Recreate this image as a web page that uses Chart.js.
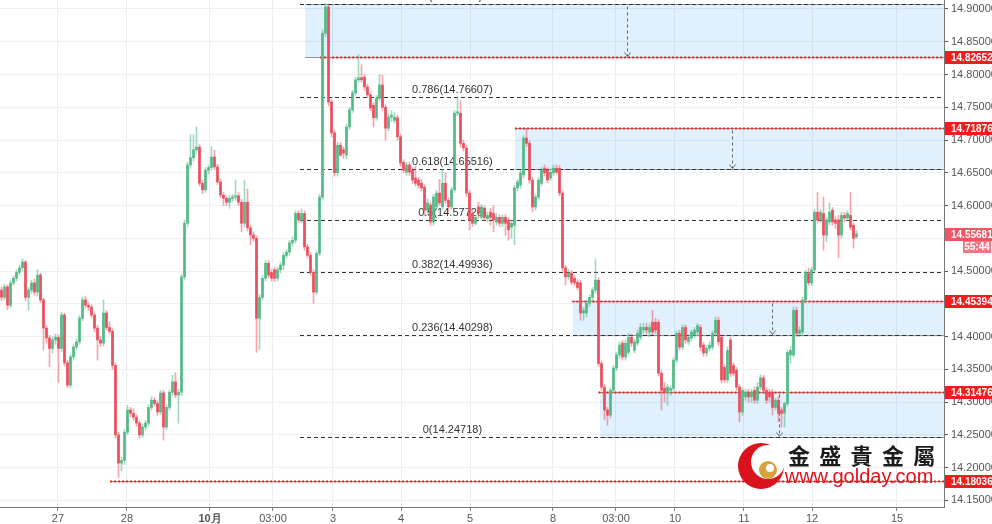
<!DOCTYPE html>
<html>
<head>
<meta charset="utf-8">
<title>USDZAR 1H</title>
<script src="https://cdn.jsdelivr.net/npm/chart.js@4.4.1/dist/chart.umd.min.js"></script>
<style>
  html, body { margin: 0; padding: 0; background: #fff; }
  #box { width: 992px; height: 524px; }
</style>
</head>
<body>
<div id="box"><canvas id="chart" width="992" height="524"></canvas></div>
<script>
// candles as [open, high, low, close]
// 26 - 28 Sep: chop, slide to the 14.18 low and the first rally
const candlesA = [
  [14.471,14.476,14.455,14.460],[14.460,14.480,14.456,14.476],[14.476,14.479,14.441,14.448],[14.448,14.486,14.444,14.482],
  [14.482,14.493,14.478,14.489],[14.489,14.502,14.485,14.498],[14.498,14.509,14.494,14.505],[14.505,14.519,14.500,14.514],
  [14.514,14.516,14.455,14.460],[14.460,14.475,14.440,14.471],[14.471,14.486,14.466,14.482],[14.482,14.488,14.463,14.468],
  [14.468,14.502,14.462,14.494],[14.494,14.497,14.452,14.456],[14.456,14.459,14.380,14.413],[14.413,14.417,14.390,14.398],
  [14.398,14.402,14.354,14.382],[14.382,14.400,14.375,14.395],[14.395,14.404,14.388,14.399],[14.399,14.403,14.330,14.382],
  [14.382,14.437,14.377,14.433],[14.433,14.436,14.355,14.360],[14.360,14.364,14.322,14.326],[14.326,14.373,14.322,14.369],
  [14.369,14.388,14.364,14.384],[14.384,14.396,14.380,14.392],[14.392,14.432,14.388,14.428],[14.428,14.460,14.424,14.456],
  [14.456,14.462,14.444,14.448],[14.448,14.452,14.440,14.445],[14.445,14.449,14.429,14.433],[14.433,14.436,14.408,14.413],
  [14.413,14.417,14.364,14.395],[14.395,14.400,14.385,14.390],[14.390,14.456,14.386,14.436],[14.436,14.440,14.410,14.414],
  [14.414,14.422,14.404,14.408],[14.408,14.412,14.350,14.356],[14.356,14.360,14.245,14.250],[14.250,14.254,14.185,14.207],
  [14.207,14.216,14.195,14.211],[14.211,14.258,14.205,14.254],[14.254,14.295,14.250,14.288],[14.288,14.292,14.278,14.283],
  [14.283,14.290,14.272,14.277],[14.277,14.281,14.263,14.268],[14.268,14.272,14.245,14.250],[14.250,14.266,14.246,14.262],
  [14.262,14.272,14.257,14.268],[14.268,14.296,14.264,14.292],[14.292,14.308,14.288,14.303],[14.303,14.307,14.294,14.298],
  [14.298,14.302,14.280,14.285],[14.285,14.318,14.281,14.314],[14.314,14.318,14.242,14.262],[14.262,14.296,14.258,14.292],
  [14.292,14.319,14.288,14.315],[14.315,14.341,14.310,14.331],[14.331,14.345,14.307,14.311],[14.311,14.320,14.268,14.315],
  [14.315,14.495,14.310,14.491]
];
// 1 - 5 Oct: rally, spike to 14.90 and the fade
const candlesB = [
  [14.491,14.578,14.487,14.573],[14.573,14.666,14.568,14.662],[14.662,14.708,14.657,14.673],[14.673,14.708,14.668,14.685],
  [14.685,14.720,14.680,14.689],[14.689,14.693,14.630,14.634],[14.634,14.638,14.618,14.624],[14.624,14.658,14.620,14.654],
  [14.654,14.662,14.648,14.658],[14.658,14.690,14.654,14.674],[14.674,14.685,14.655,14.659],[14.659,14.663,14.632,14.636],
  [14.636,14.640,14.612,14.616],[14.616,14.620,14.600,14.611],[14.611,14.614,14.600,14.605],[14.605,14.615,14.596,14.611],
  [14.611,14.617,14.606,14.613],[14.613,14.639,14.608,14.615],[14.615,14.620,14.600,14.605],[14.605,14.610,14.560,14.573],
  [14.573,14.639,14.568,14.605],[14.605,14.625,14.561,14.566],[14.566,14.570,14.540,14.555],[14.555,14.560,14.545,14.550],
  [14.550,14.554,14.376,14.428],[14.428,14.464,14.380,14.460],[14.460,14.493,14.456,14.489],[14.489,14.516,14.485,14.512],
  [14.512,14.516,14.490,14.494],[14.498,14.503,14.485,14.489],[14.502,14.506,14.484,14.489],[14.489,14.506,14.485,14.502],
  [14.502,14.513,14.497,14.509],[14.509,14.528,14.502,14.524],[14.524,14.533,14.520,14.529],[14.529,14.547,14.525,14.543],
  [14.543,14.552,14.538,14.547],[14.547,14.592,14.543,14.588],[14.588,14.592,14.574,14.578],[14.578,14.595,14.574,14.588],
  [14.588,14.592,14.532,14.537],[14.537,14.541,14.520,14.524],[14.524,14.528,14.494,14.498],[14.498,14.502,14.451,14.468],
  [14.468,14.531,14.464,14.527],[14.527,14.617,14.523,14.613],[14.613,14.868,14.609,14.863],[14.863,14.908,14.858,14.903],
  [14.903,14.906,14.752,14.758],[14.758,14.762,14.705,14.711],[14.711,14.715,14.645,14.650],[14.650,14.697,14.645,14.692],
  [14.692,14.696,14.675,14.677],[14.685,14.690,14.672,14.680],[14.677,14.724,14.672,14.720],[14.720,14.750,14.716,14.746],
  [14.746,14.776,14.742,14.772],[14.772,14.796,14.768,14.792],[14.792,14.830,14.788,14.795],[14.795,14.815,14.788,14.792],
  [14.796,14.800,14.776,14.781],[14.781,14.785,14.765,14.769],[14.769,14.773,14.745,14.749],[14.753,14.757,14.720,14.734],
  [14.734,14.768,14.730,14.764],[14.764,14.800,14.760,14.784],[14.784,14.799,14.745,14.750],[14.750,14.754,14.700,14.718],
  [14.718,14.740,14.714,14.735],[14.735,14.745,14.728,14.738],[14.730,14.742,14.726,14.735],[14.734,14.738,14.700,14.705],
  [14.705,14.709,14.660,14.665],[14.666,14.670,14.650,14.654],[14.651,14.666,14.646,14.662],[14.662,14.666,14.646,14.651],
  [14.654,14.658,14.634,14.639],[14.642,14.660,14.630,14.634],[14.639,14.643,14.627,14.631],[14.634,14.640,14.622,14.627],
  [14.628,14.632,14.585,14.593],[14.593,14.610,14.588,14.604],[14.601,14.605,14.570,14.575],[14.575,14.617,14.570,14.613],
  [14.598,14.623,14.594,14.619],[14.619,14.640,14.600,14.604],[14.598,14.655,14.594,14.634],[14.634,14.650,14.603,14.608],
  [14.608,14.612,14.590,14.598],[14.598,14.628,14.594,14.624],[14.624,14.745,14.620,14.741],[14.741,14.766,14.737,14.743],
  [14.741,14.760,14.690,14.695],[14.695,14.700,14.683,14.688],[14.688,14.692,14.614,14.619],[14.619,14.623,14.563,14.578],
  [14.588,14.592,14.568,14.573],[14.573,14.585,14.570,14.582],[14.598,14.605,14.580,14.588],[14.582,14.602,14.578,14.598],
  [14.596,14.600,14.578,14.582],[14.580,14.590,14.575,14.585],[14.590,14.596,14.570,14.582],[14.588,14.600,14.560,14.578],
  [14.575,14.588,14.570,14.582],[14.582,14.586,14.568,14.573],[14.573,14.586,14.568,14.582],[14.582,14.586,14.555,14.573],
  [14.578,14.582,14.547,14.563],[14.567,14.578,14.550,14.573],[14.570,14.631,14.540,14.627],[14.627,14.640,14.622,14.636],
  [14.631,14.654,14.626,14.650],[14.647,14.707,14.642,14.703],[14.703,14.718,14.690,14.695],[14.695,14.699,14.634,14.639],
  [14.639,14.643,14.590,14.598],[14.598,14.617,14.593,14.613],[14.613,14.643,14.608,14.639],[14.634,14.658,14.630,14.654],
  [14.657,14.662,14.645,14.650],[14.654,14.658,14.635,14.639],[14.642,14.656,14.638,14.651],[14.650,14.662,14.646,14.657],
  [14.657,14.662,14.648,14.651],[14.657,14.661,14.615,14.619]
];
// 8 - 12 Oct: the drop, the 14.25-14.43 range and the breakout
const candlesC = [
  [14.619,14.623,14.500,14.505],[14.505,14.509,14.479,14.491],[14.491,14.503,14.487,14.497],[14.497,14.501,14.479,14.483],
  [14.489,14.493,14.478,14.482],[14.483,14.487,14.471,14.475],[14.482,14.486,14.425,14.436],[14.436,14.445,14.425,14.440],
  [14.436,14.455,14.430,14.451],[14.451,14.464,14.446,14.460],[14.460,14.475,14.455,14.471],[14.471,14.518,14.466,14.486],
  [14.486,14.490,14.355,14.359],[14.359,14.363,14.318,14.323],[14.323,14.327,14.273,14.288],[14.288,14.292,14.265,14.280],
  [14.280,14.322,14.276,14.318],[14.318,14.356,14.314,14.352],[14.352,14.376,14.348,14.372],[14.372,14.392,14.366,14.387],
  [14.390,14.394,14.364,14.369],[14.369,14.395,14.364,14.390],[14.376,14.405,14.372,14.399],[14.399,14.404,14.385,14.390],
  [14.379,14.396,14.375,14.392],[14.390,14.410,14.386,14.405],[14.399,14.420,14.395,14.414],[14.410,14.420,14.405,14.414],
  [14.414,14.420,14.404,14.410],[14.407,14.419,14.400,14.414],[14.422,14.440,14.403,14.407],[14.422,14.428,14.405,14.410],
  [14.422,14.426,14.340,14.344],[14.344,14.348,14.288,14.318],[14.321,14.330,14.300,14.315],[14.315,14.327,14.295,14.323],
  [14.318,14.325,14.310,14.321],[14.321,14.368,14.317,14.364],[14.364,14.409,14.360,14.405],[14.405,14.410,14.380,14.384],
  [14.384,14.418,14.380,14.414],[14.414,14.418,14.390,14.395],[14.392,14.403,14.388,14.399],[14.398,14.410,14.393,14.407],
  [14.402,14.414,14.398,14.410],[14.407,14.420,14.403,14.417],[14.414,14.418,14.378,14.384],[14.387,14.391,14.370,14.375],
  [14.375,14.386,14.370,14.382],[14.382,14.392,14.378,14.387],[14.384,14.409,14.380,14.405],[14.405,14.430,14.401,14.425],
  [14.425,14.430,14.387,14.392],[14.399,14.403,14.329,14.334],[14.353,14.357,14.330,14.334],[14.334,14.384,14.330,14.379],
  [14.395,14.399,14.339,14.344],[14.356,14.360,14.340,14.344],[14.349,14.353,14.318,14.323],[14.323,14.327,14.270,14.285],
  [14.285,14.322,14.280,14.318],[14.308,14.320,14.303,14.315],[14.315,14.320,14.300,14.308],[14.308,14.320,14.300,14.315],
  [14.318,14.323,14.298,14.303],[14.303,14.330,14.298,14.323],[14.323,14.342,14.319,14.337],[14.337,14.341,14.313,14.318],
  [14.318,14.322,14.298,14.303],[14.315,14.320,14.300,14.308],[14.315,14.320,14.280,14.292],[14.292,14.306,14.288,14.303],
  [14.303,14.308,14.270,14.283],[14.288,14.292,14.262,14.283],[14.283,14.300,14.262,14.298],[14.298,14.380,14.294,14.376],
  [14.372,14.385,14.360,14.379],[14.372,14.445,14.368,14.440],[14.440,14.445,14.400,14.405],[14.405,14.415,14.400,14.410],
  [14.407,14.460,14.403,14.456],[14.456,14.502,14.452,14.498],[14.498,14.505,14.478,14.482],[14.482,14.506,14.478,14.502],
  [14.502,14.594,14.498,14.590],[14.590,14.620,14.574,14.578],[14.578,14.594,14.574,14.590],[14.588,14.613,14.532,14.555],
  [14.555,14.582,14.545,14.578],[14.575,14.604,14.570,14.590],[14.593,14.597,14.570,14.575],[14.578,14.583,14.565,14.573],
  [14.578,14.585,14.520,14.555],[14.555,14.590,14.550,14.585],[14.585,14.590,14.575,14.581],[14.581,14.592,14.577,14.588],
  [14.585,14.620,14.563,14.567],[14.570,14.574,14.535,14.550],[14.552,14.562,14.550,14.557]
];

// time axis (bar index) labels
const tickPos  = [18.83, 41.83, 69.5, 90.5, 110.5, 133.17, 156.17, 183.83, 204.83, 224.5, 247.5, 270.17, 298.5];
const tickText = ['27', '28', '10月', '03:00', '3', '4', '5', '8', '03:00', '10', '11', '12', '15'];
const priceTicks = [14.15, 14.20, 14.25, 14.30, 14.35, 14.40, 14.45, 14.50, 14.55, 14.60, 14.65, 14.70, 14.75, 14.80, 14.85, 14.90];

// fibonacci retracement
const fibRatios = [1, 0.786, 0.618, 0.5, 0.382, 0.236, 0];
const fibValues = [14.90734, 14.76607, 14.65516, 14.57726, 14.49936, 14.40298, 14.24718];
const fibFrom = 99.5, fibLabelAt = 150.3;

// shaded zones and the red levels
const boxFrom   = [101.2, 171.2, 190.5, 199.5];
const boxTop    = [14.90734, 14.71876, 14.45394, 14.31476];
const boxBottom = [14.82652, 14.65516, 14.40298, 14.24718];
const arrowAt   = [208.5, 243.5, 256.8, 259.2];
const redLevels = [14.82652, 14.71876, 14.45394, 14.31476, 14.18036];
const redFrom   = [106.2, 171.2, 190.3, 199.0, 36.2];
const lastPrice = 14.55681, countdown = '55:44';

const UP = '#53b987', DOWN = '#eb4d5c';
const UP_WICK = 'rgba(83,185,135,0.55)', DOWN_WICK = 'rgba(235,77,92,0.5)';
const FONT = "'Liberation Sans', Arial, sans-serif";

const candles = [].concat(candlesA, candlesB, candlesC);
const isUp = candles.map(c => c[3] >= c[0]);

Chart.defaults.font.family = FONT;
Chart.defaults.font.size = 11;
Chart.defaults.color = '#555';

function hline(ctx, x0, x1, y) {
  ctx.beginPath(); ctx.moveTo(x0, y); ctx.lineTo(x1, y); ctx.stroke();
}

const drawings = {
  id: 'drawings',
  beforeDatasetsDraw(chart) {
    const {ctx, chartArea: a, scales: {x, y}} = chart;
    const px = v => x.getPixelForValue(v);
    const py = v => Math.round(y.getPixelForValue(v)) + 0.5;
    ctx.save();
    ctx.beginPath();
    ctx.rect(a.left, a.top, a.right - a.left, a.bottom - a.top);
    ctx.clip();

    // zones
    boxFrom.forEach((s, k) => {
      const t = py(boxTop[k]), b = py(boxBottom[k]);
      ctx.fillStyle = 'rgba(33,150,243,0.14)';
      ctx.fillRect(px(s), t, a.right - px(s), b - t);
      ctx.strokeStyle = '#8d949b'; ctx.lineWidth = 1; ctx.setLineDash([]);
      hline(ctx, px(s), a.right, t);
      hline(ctx, px(s), a.right, b);
    });

    // fib levels
    ctx.lineWidth = 1;
    ctx.font = '11px ' + FONT;
    ctx.textAlign = 'center';
    ctx.textBaseline = 'bottom';
    fibValues.forEach((v, k) => {
      const yy = py(v);
      ctx.setLineDash([4, 3]);
      ctx.strokeStyle = '#333';
      hline(ctx, px(fibFrom), a.right, yy);
      ctx.fillStyle = '#333';
      ctx.fillText(fibRatios[k] + '(' + v.toFixed(5) + ')', px(fibLabelAt), yy - 2);
    });

    // red levels
    redLevels.forEach((v, k) => {
      const yy = py(v);
      ctx.setLineDash([]); ctx.strokeStyle = '#9a8a8a'; ctx.lineWidth = 1;
      hline(ctx, px(redFrom[k]), a.right, yy);
      ctx.setLineDash([2, 2]); ctx.strokeStyle = '#f01e1e'; ctx.lineWidth = 2;
      hline(ctx, px(redFrom[k]), a.right, yy);
    });

    // projection arrows
    ctx.lineWidth = 1; ctx.strokeStyle = '#666';
    arrowAt.forEach((s, k) => {
      const ax = Math.round(px(s)) + 0.5, t = py(boxTop[k]), b = py(boxBottom[k]);
      ctx.setLineDash([3, 3]);
      ctx.beginPath(); ctx.moveTo(ax, t + 2); ctx.lineTo(ax, b - 1); ctx.stroke();
      ctx.setLineDash([]);
      ctx.beginPath(); ctx.moveTo(ax - 3, b - 5); ctx.lineTo(ax, b - 1); ctx.lineTo(ax + 3, b - 5); ctx.stroke();
    });
    ctx.restore();
  },
  afterDraw(chart) {
    const {ctx, chartArea: a, scales: {y}} = chart;
    ctx.save();
    // price tags on the right axis
    ctx.font = 'bold 10px ' + FONT;
    ctx.textAlign = 'left';
    ctx.textBaseline = 'middle';
    const tag = (v, color) => {
      const yy = Math.round(y.getPixelForValue(v));
      ctx.fillStyle = color;
      ctx.fillRect(a.right + 1, yy - 6, 48, 13);
      ctx.fillStyle = '#fff';
      ctx.fillText(v.toFixed(5), a.right + 7, yy + 1);
      return yy;
    };
    redLevels.forEach(v => tag(v, '#f21c1c'));
    const ly = tag(lastPrice, '#ee5565');
    ctx.fillStyle = '#f07884';
    ctx.fillRect(a.right + 19, ly + 7, 28, 12);
    ctx.fillStyle = '#fff';
    ctx.textAlign = 'center';
    ctx.fillText(countdown, a.right + 33, ly + 13);

    // watermark logo
    const cx = 761, cy = 466;
    ctx.fillStyle = '#d9121c';
    ctx.beginPath(); ctx.arc(cx, cy, 23, 0, Math.PI * 2); ctx.fill();
    ctx.fillStyle = '#fff';
    ctx.beginPath(); ctx.arc(cx + 7, cy - 4, 17, 0, Math.PI * 2); ctx.fill();
    ctx.fillStyle = '#d8a13a';
    ctx.beginPath(); ctx.arc(cx + 7, cy + 4, 9, 0, Math.PI * 2); ctx.fill();
    ctx.fillStyle = '#fff';
    ctx.beginPath(); ctx.arc(cx + 9, cy + 2, 4, 0, Math.PI * 2); ctx.fill();

    ctx.fillStyle = '#1b1b1b';
    ctx.font = 'bold 22px "Noto Sans CJK TC", sans-serif';
    ctx.textAlign = 'center';
    ctx.textBaseline = 'middle';
    ['金', '盛', '貴', '金', '屬'].forEach((ch, k) => ctx.fillText(ch, 799 + k * 31.3, 456));
    ctx.fillStyle = '#e3111b';
    ctx.font = '20px ' + FONT;
    ctx.fillText('www.golday.com', 859, 477);
    ctx.restore();
  }
};

new Chart(document.getElementById('chart'), {
  type: 'bar',
  data: {
    datasets: [
      {
        label: 'wick',
        data: candles.map((c, i) => ({x: i, y: [c[2], c[1]]})),
        backgroundColor: isUp.map(u => u ? UP_WICK : DOWN_WICK),
        barThickness: 1,
        grouped: false,
        borderWidth: 0,
        order: 2
      },
      {
        label: 'body',
        data: candles.map((c, i) => ({x: i, y: [c[0], c[3]]})),
        backgroundColor: isUp.map(u => u ? UP : DOWN),
        barThickness: 2,
        minBarLength: 1,
        grouped: false,
        borderWidth: 0,
        order: 1
      }
    ]
  },
  options: {
    responsive: false,
    devicePixelRatio: 1,
    animation: false,
    events: [],
    layout: { padding: 0 },
    plugins: { legend: { display: false }, tooltip: { enabled: false } },
    scales: {
      x: {
        type: 'linear',
        min: -0.5,
        max: 314.1667,
        offset: false,
        grid: { offset: false, color: '#e9eef3', tickColor: '#888', tickLength: 4 },
        border: { color: '#777' },
        afterBuildTicks: s => { s.ticks = tickPos.map(v => ({value: v})); },
        afterFit: s => { s.height = 17; s.paddingLeft = 0; s.paddingRight = 0; },
        ticks: {
          autoSkip: false,
          maxRotation: 0,
          padding: 1,
          color: '#555',
          font: ctx => ({ size: 11, weight: ctx.tick && ctx.tick.label === '10月' ? 'bold' : 'normal' }),
          callback: (v, i) => tickText[i]
        }
      },
      y: {
        type: 'linear',
        position: 'right',
        min: 14.14,
        max: 14.9137,
        beginAtZero: false,
        grid: { color: '#edf0f4', tickColor: '#555', tickLength: 4 },
        border: { color: '#777' },
        afterBuildTicks: s => { s.ticks = priceTicks.map(v => ({value: v})); },
        // the plot runs to the very top edge, so drop the room Chart.js keeps for half a label
        afterFit: s => { s.width = 48; s.paddingTop = 0; s.paddingBottom = 0; },
        ticks: {
          padding: 3,
          color: '#555',
          font: { size: 11 },
          callback: v => v.toFixed(5)
        }
      }
    }
  },
  plugins: [drawings]
});
</script>
</body>
</html>
